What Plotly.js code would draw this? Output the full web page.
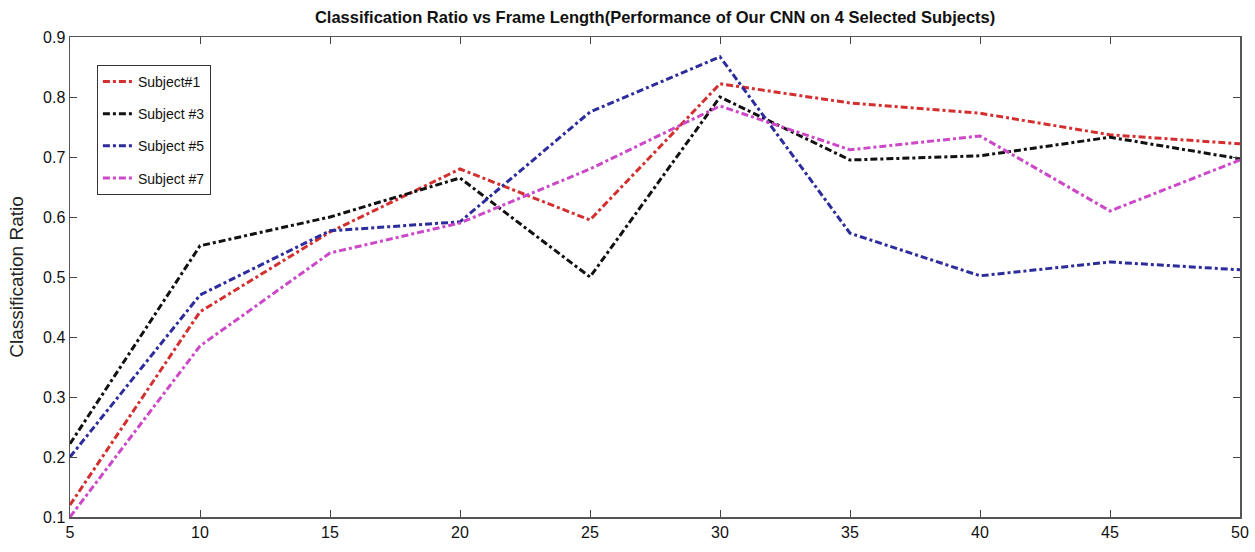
<!DOCTYPE html>
<html><head><meta charset="utf-8">
<script src="https://cdn.plot.ly/plotly-3.0.1.min.js"></script>
<style>html,body{margin:0;padding:0;background:#fff;}#chart{width:1255px;height:552px;}</style>
</head><body><div id="chart"></div>
<script>
const frameLength = [5, 10, 15, 20, 25, 30, 35, 40, 45, 50];
const subject1 = [0.12, 0.442, 0.575, 0.68, 0.595, 0.822, 0.79, 0.773, 0.737, 0.722];
const subject3 = [0.222, 0.552, 0.60, 0.665, 0.50, 0.80, 0.695, 0.702, 0.733, 0.697];
const subject5 = [0.20, 0.47, 0.577, 0.592, 0.775, 0.867, 0.573, 0.502, 0.525, 0.512];
const subject7 = [0.10, 0.385, 0.54, 0.59, 0.68, 0.785, 0.712, 0.735, 0.61, 0.695];
const names = ['Subject#1', 'Subject #3', 'Subject #5', 'Subject #7'];
const colors = ['#d42f2f', '#111111', '#2c2c9c', '#cc48c8'];
const series = [subject1, subject3, subject5, subject7];

const dash = '7px,3px,3px,3px';
const traces = series.map((s, i) => ({
  x: frameLength, y: s, name: names[i], type: 'scatter', mode: 'lines',
  line: {color: colors[i], width: 3, dash: dash},
  legendgroup: 'g' + i
}));

const fontFam = '"Liberation Sans Narrow", "Arial Narrow", "Liberation Sans", Arial, sans-serif';
const layout = {
  width: 1255, height: 552,
  margin: {l: 70, r: 15, t: 37, b: 35},
  paper_bgcolor: '#fff', plot_bgcolor: '#fff',
  title: {text: '<b>Classification Ratio vs Frame Length(Performance of Our CNN on 4 Selected Subjects)</b>',
          font: {family: fontFam, size: 16.5, color: '#111'}, x: 0.522, xanchor: 'center', y: 0.968, yanchor: 'middle'},
  xaxis: {range: [5, 50], tickvals: frameLength, ticktext: frameLength.map(String),
          showgrid: false, zeroline: false, showline: true, linecolor: '#555', linewidth: 1.5,
          mirror: 'ticks', ticks: 'inside', ticklen: 7, tickcolor: '#444',
          tickfont: {family: fontFam, size: 16, color: '#111'}},
  yaxis: {range: [0.1, 0.9], dtick: 0.1, tick0: 0.1, tickformat: '.1f',
          showgrid: false, zeroline: false, showline: true, linecolor: '#555', linewidth: 1.5,
          mirror: 'ticks', ticks: 'inside', ticklen: 7, tickcolor: '#444',
          tickfont: {family: fontFam, size: 16, color: '#111'},
          title: {text: 'Classification Ratio', font: {family: '"Liberation Sans", Arial, sans-serif', size: 19, color: '#222'}, standoff: 14}},
  legend: {x: 0.023, y: 0.942, xanchor: 'left', yanchor: 'top', bordercolor: '#333', borderwidth: 1,
           bgcolor: '#fff', font: {family: fontFam, size: 14, color: '#111'}, tracegroupgap: 11, itemwidth: 30},
  showlegend: true
};
Plotly.newPlot('chart', traces, layout, {displayModeBar: false, staticPlot: true});
</script></body></html>
